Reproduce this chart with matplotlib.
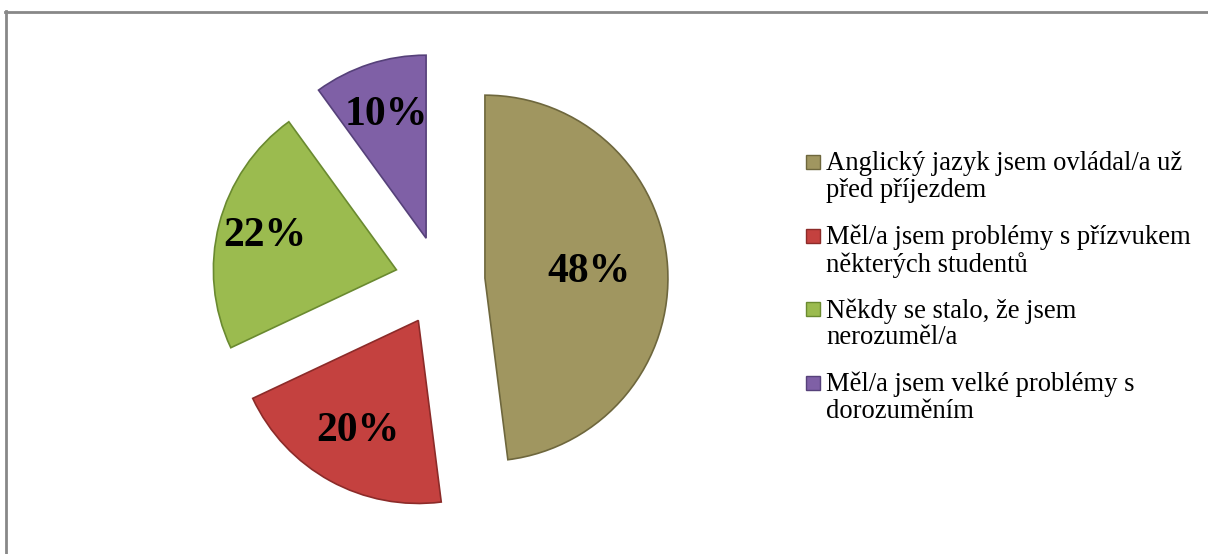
import numpy as np
import matplotlib.pyplot as plt
from matplotlib.patches import Rectangle
from matplotlib.lines import Line2D
from matplotlib import rcParams
rcParams['font.family'] = 'serif'
rcParams['font.serif'] = ['Liberation Serif', 'DejaVu Serif']

# survey answers and their shares (%)
categories = ['Anglický jazyk jsem ovládal/a už\npřed příjezdem',
              'Měl/a jsem problémy s přízvukem\nněkterých studentů',
              'Někdy se stalo, že jsem\nnerozuměl/a',
              'Měl/a jsem velké problémy s\ndorozuměním']
shares = [48, 20, 22, 10]

colors = ['#a09660', '#c4413f', '#9bbb4f', '#7f60a6']
edge_colors = ['#6e673d', '#8c2b29', '#6a8a30', '#56417a']
label_dist = [0.57, 0.69, 0.74, 0.71]

W, H = 1208, 554
fig = plt.figure(figsize=(W / 100, H / 100), dpi=100)
ax = fig.add_axes([0, 0, 1, 1])

R = 183          # pie radius in pixels
cx, cy = 440, 281  # pie centre, pixels from top-left

wedges, _ = ax.pie(shares, colors=colors, startangle=90, counterclock=False,
                   explode=[0.246] * len(shares), radius=1,
                   wedgeprops=dict(linewidth=1.2))
for w, ec in zip(wedges, edge_colors):
    w.set_edgecolor(ec)

ax.set_xlim(-cx / R, (W - cx) / R)
ax.set_ylim(-(H - cy) / R, cy / R)
ax.axis('off')

# percentage labels inside each slice
for w, val, d in zip(wedges, shares, label_dist):
    theta = np.deg2rad((w.theta1 + w.theta2) / 2)
    x = w.center[0] + d * np.cos(theta)
    y = w.center[1] + d * np.sin(theta)
    ax.text(x, y, '%d%%' % val, ha='center', va='center',
            fontsize=30, fontweight='bold', color='black')

# legend drawn by hand so the marker sits on the first line
for i, (lab, c, ec) in enumerate(zip(categories, colors, edge_colors)):
    top = 155 + i * 73.5
    fig.add_artist(Rectangle((806 / W, 1 - (top + 14) / H), 14 / W, 14 / H,
                             transform=fig.transFigure, facecolor=c,
                             edgecolor=ec, linewidth=1))
    fig.text(826 / W, 1 - (top - 4) / H, lab, ha='left', va='top',
             fontsize=19.2, linespacing=1.08, color='black')

# chart frame (top and left edges)
fig.add_artist(Line2D([5.5 / W, 5.5 / W], [0, 1 - 11 / H],
                      transform=fig.transFigure, color='#888888', lw=2))
fig.add_artist(Line2D([5 / W, 1], [1 - 12 / H, 1 - 12 / H],
                      transform=fig.transFigure, color='#888888', lw=2))

fig.savefig('out.png', dpi=100, facecolor='white')
